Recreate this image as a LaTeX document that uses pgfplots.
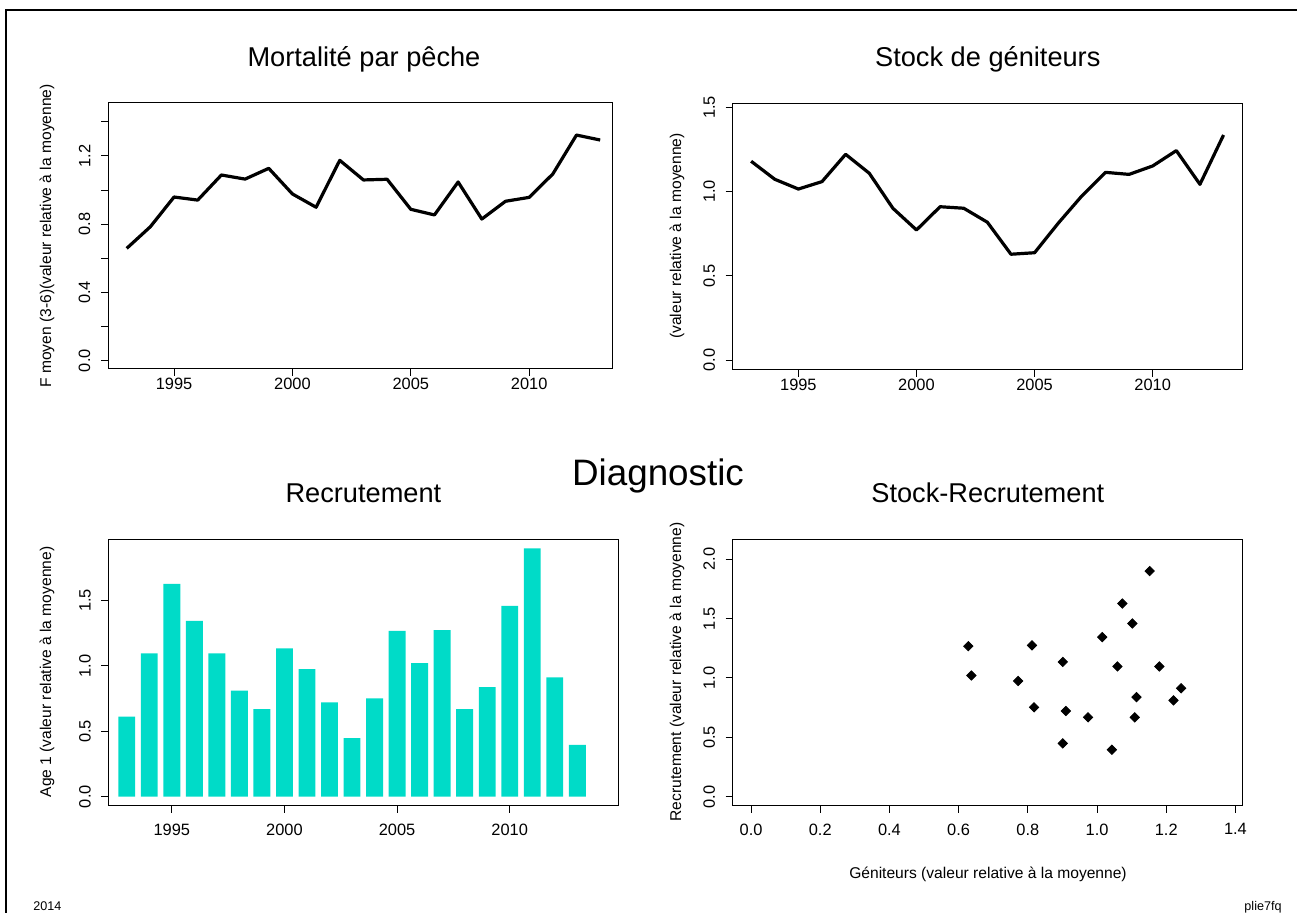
\documentclass[border=0pt]{standalone}
\usepackage{fontspec}
\setmainfont{Liberation Sans}
\usepackage{pgfplots}
\usepackage{pgfplotstable}
\pgfplotsset{compat=1.18}
\definecolor{turq}{RGB}{0,219,200}

\pgfplotstableread{
year F
1993 0.658
1994 0.785
1995 0.959
1996 0.941
1997 1.088
1998 1.064
1999 1.127
2000 0.977
2001 0.899
2002 1.174
2003 1.059
2004 1.063
2005 0.887
2006 0.854
2007 1.047
2008 0.830
2009 0.934
2010 0.957
2011 1.094
2012 1.322
2013 1.293
}\Fdata

\pgfplotstableread{
year ssb
1993 1.180
1994 1.073
1995 1.015
1996 1.059
1997 1.221
1998 1.109
1999 0.901
2000 0.772
2001 0.910
2002 0.901
2003 0.818
2004 0.628
2005 0.637
2006 0.812
2007 0.974
2008 1.114
2009 1.102
2010 1.152
2011 1.243
2012 1.043
2013 1.336
}\SSBdata

\pgfplotstableread{
year rec
1993 0.612
1994 1.097
1995 1.627
1996 1.344
1997 1.097
1998 0.811
1999 0.669
2000 1.135
2001 0.975
2002 0.722
2003 0.449
2004 0.753
2005 1.268
2006 1.021
2007 1.275
2008 0.669
2009 0.839
2010 1.459
2011 1.900
2012 0.913
2013 0.396
}\Rdata

% stock (year t) vs recruitment (year t+1)
\pgfplotstableread{
ssb rec
1.180 1.097
1.073 1.627
1.015 1.344
1.059 1.097
1.221 0.811
1.109 0.669
0.901 1.135
0.772 0.975
0.910 0.722
0.901 0.449
0.818 0.753
0.628 1.268
0.637 1.021
0.812 1.275
0.974 0.669
1.114 0.839
1.102 1.459
1.152 1.900
1.243 0.913
1.043 0.396
}\SRdata

\pgfplotsset{rstyle/.style={
  scale only axis,
  anchor=south west,
  axis line style={line width=0.5pt, black},
  tick align=outside,
  xtick pos=left, ytick pos=left,
  major tick length=3.5pt,
  tick style={line width=0.5pt, black},
  ticklabel style={font=\fontsize{8.2}{9}\selectfont},
  /pgf/number format/assume math mode=true,
  yticklabel style={xshift=-5.1pt, rotate=90, anchor=south, inner sep=0pt},
}}

\begin{document}
\begin{tikzpicture}
\useasboundingbox (0,0) rectangle (648.5pt,456.5pt);
\draw[line width=1pt] (3pt,-2pt) -- (3pt,451.5pt) -- (650pt,451.5pt);

% top left
\begin{axis}[rstyle, at={(54pt,272pt)}, width=252pt, height=133pt,
  xticklabel style={anchor=north, inner sep=0pt, yshift=-0.8pt},
  xmin=1992.21, xmax=2013.5, ymin=-0.0486, ymax=1.510,
  xtick={1995,2000,2005,2010}, xticklabels={1995,2000,2005,2010},
  ytick={0,0.2,0.4,0.6,0.8,1,1.2,1.4}, yticklabels={0.0,,0.4,,0.8,,1.2,}]
\addplot[black, line width=1.6pt, line join=round] table[x=year,y=F] {\Fdata};
\end{axis}

% top right
\begin{axis}[rstyle, at={(366.35pt,271.5pt)}, width=255pt, height=133.35pt,
  xticklabel style={anchor=north, inner sep=0pt, yshift=-0.8pt},
  xmin=1992.22, xmax=2013.81, ymin=-0.059, ymax=1.524,
  xtick={1995,2000,2005,2010}, xticklabels={1995,2000,2005,2010},
  ytick={0,0.5,1,1.5}, yticklabels={0.0,0.5,1.0,1.5}]
\addplot[black, line width=1.6pt, line join=round] table[x=year,y=ssb] {\SSBdata};
\end{axis}

% bottom left
\begin{axis}[rstyle, at={(54.15pt,53.5pt)}, width=255pt, height=133.35pt,
  xticklabel style={anchor=north, inner sep=0pt, yshift=-5.1pt},
  xmin=1992.18, xmax=2014.82, ymin=-0.071, ymax=1.969,
  xtick={1995,2000,2005,2010}, xticklabels={1995,2000,2005,2010},
  ytick={0,0.5,1,1.5}, yticklabels={0.0,0.5,1.0,1.5}]
\addplot[ybar, bar width=0.75, fill=turq, draw=none] table[x=year,y=rec] {\Rdata};
\end{axis}

% bottom right
\begin{axis}[rstyle, at={(366.35pt,53.5pt)}, width=255pt, height=133.35pt,
  xticklabel style={anchor=north, inner sep=0pt, yshift=-5.1pt},
  xmin=-0.053, xmax=1.421, ymin=-0.078, ymax=2.168,
  xtick={0,0.2,0.4,0.6,0.8,1,1.2,1.4}, xticklabels={0.0,0.2,0.4,0.6,0.8,1.0,1.2,1.4},
  ytick={0,0.5,1,1.5,2}, yticklabels={0.0,0.5,1.0,1.5,2.0}]
\addplot[only marks, mark=square*, mark size=1.65pt, mark options={rotate=45, fill=black, draw=black}] table[x=ssb,y=rec] {\SRdata};
\end{axis}

% titles
\node[anchor=base, font=\fontsize{13.6}{15}\selectfont] at (182pt,423.2pt) {Mortalité par pêche};
\node[anchor=base, font=\fontsize{13.6}{15}\selectfont] at (493.9pt,423.2pt) {Stock de géniteurs};
\node[anchor=base, font=\fontsize{13.6}{15}\selectfont] at (181.7pt,205pt) {Recrutement};
\node[anchor=base, font=\fontsize{13.6}{15}\selectfont] at (493.9pt,205pt) {Stock-Recrutement};
\node[anchor=base, font=\fontsize{18.4}{21}\selectfont] at (329pt,213.5pt) {Diagnostic};

% axis labels
\node[rotate=90, font=\fontsize{7.8}{9}\selectfont] at (23.5pt,338.5pt) {F moyen (3-6)(valeur relative à la moyenne)};
\node[rotate=90, font=\fontsize{7.8}{9}\selectfont] at (338.5pt,338.5pt) {(valeur relative à la moyenne)};
\node[rotate=90, font=\fontsize{7.8}{9}\selectfont] at (23.5pt,120.5pt) {Age 1 (valeur relative à la moyenne)};
\node[rotate=90, font=\fontsize{7.8}{9}\selectfont] at (338.5pt,120.5pt) {Recrutement (valeur relative à la moyenne)};
\node[font=\fontsize{7.8}{9}\selectfont] at (494pt,19.5pt) {Géniteurs (valeur relative à la moyenne)};

% footers
\node[anchor=base west, inner sep=0pt, font=\fontsize{6.3}{7}\selectfont] at (16.5pt,1pt) {2014};
\node[anchor=base east, inner sep=0pt, font=\fontsize{6.3}{7}\selectfont] at (641pt,1pt) {plie7fq};
\end{tikzpicture}
\end{document}
